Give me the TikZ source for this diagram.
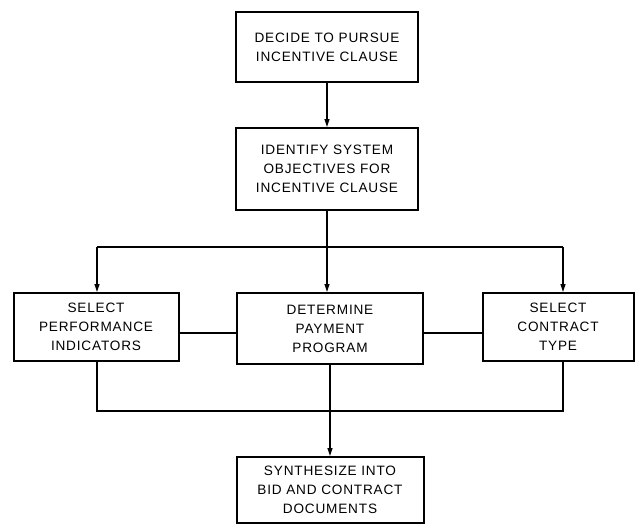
\documentclass[tikz,border=0pt]{standalone}
\usepackage{fontspec}
\setmainfont{Liberation Sans}[LetterSpace=6]
\usetikzlibrary{arrows.meta}
\begin{document}
\begin{tikzpicture}[x=1pt,y=-1pt,
  stepbox/.style={draw, line width=2pt, minimum width=#1, inner sep=0pt, align=center,
    font=\fontsize{13.6}{19}\selectfont},
  stepbox/.default=182pt,
  link/.style={line width=1.2pt},
  flow/.style={link, -{Triangle[length=8pt,width=5pt]}}]
  \useasboundingbox (0,0) rectangle (636,524);
  % top column
  \node[stepbox, minimum height=70pt] (decide) at (327,47) {DECIDE TO PURSUE\\INCENTIVE CLAUSE};
  \node[stepbox, minimum height=82pt] (identify) at (327,169) {IDENTIFY SYSTEM\\OBJECTIVES FOR\\INCENTIVE CLAUSE};
  % middle row
  \node[stepbox=165pt, minimum height=68pt] (perf) at (96,327) {SELECT\\PERFORMANCE\\INDICATORS};
  \node[stepbox=186pt, minimum height=71pt] (pay) at (330,328.5) {DETERMINE\\PAYMENT\\PROGRAM};
  \node[stepbox=151pt, minimum height=68pt] (contract) at (558,327) {SELECT\\CONTRACT\\TYPE};
  % bottom
  \node[stepbox=187pt, minimum height=66pt] (synth) at (330,490) {SYNTHESIZE INTO\\BID AND CONTRACT\\DOCUMENTS};

  \coordinate (split) at (327,247);
  \coordinate (splitL) at (97,247);
  \coordinate (splitR) at (563,247);
  \coordinate (joinL) at (97,411);
  \coordinate (joinR) at (563,411);

  \draw[flow] (decide.south) -- (identify.north);
  \draw[link] (identify.south) -- (split);
  \draw[link] (splitL) -- (splitR);
  \draw[flow] (splitL) -- (splitL |- perf.north);
  \draw[flow] (split) -- (split |- pay.north);
  \draw[flow] (splitR) -- (splitR |- contract.north);
  \draw[link] (perf.east |- 0,333) -- (pay.west |- 0,333);
  \draw[link] (pay.east |- 0,333) -- (contract.west |- 0,333);
  \draw[link] (splitL |- perf.south) -- (joinL) -- (joinR) -- (splitR |- contract.south);
  \draw[flow] (pay.south) -- (synth.north);
\end{tikzpicture}
\end{document}
